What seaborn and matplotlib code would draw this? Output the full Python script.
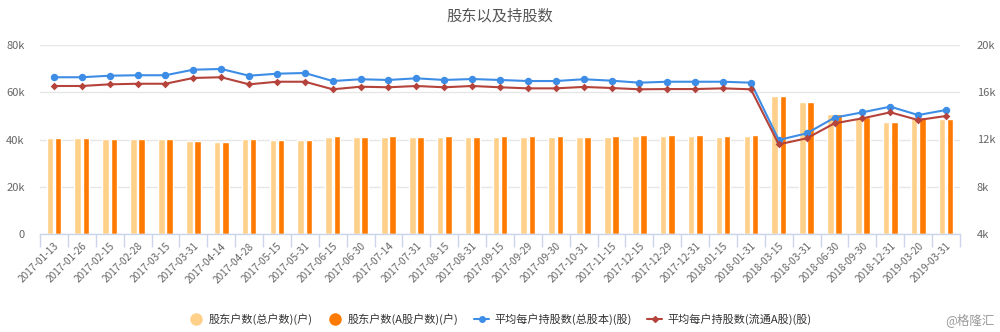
import numpy as np
import pandas as pd
import matplotlib
matplotlib.use("Agg")
import matplotlib.pyplot as plt
import seaborn as sns
from matplotlib.ticker import FuncFormatter
from matplotlib.lines import Line2D

dates = ["2017-01-13", "2017-01-26", "2017-02-15", "2017-02-28", "2017-03-15", "2017-03-31",
         "2017-04-14", "2017-04-28", "2017-05-15", "2017-05-31", "2017-06-15", "2017-06-30",
         "2017-07-14", "2017-07-31", "2017-08-15", "2017-08-31", "2017-09-15", "2017-09-29",
         "2017-09-30", "2017-10-31", "2017-11-15", "2017-12-15", "2017-12-29", "2017-12-31",
         "2018-01-15", "2018-01-31", "2018-03-15", "2018-03-31", "2018-06-30", "2018-09-30",
         "2018-12-31", "2019-03-20", "2019-03-31"]

total_households = [40500, 40500, 40200, 40200, 40200, 39400, 38800, 40200, 39800, 39800, 41200,
                    40900, 41200, 40900, 41200, 40900, 41200, 41200, 41200, 40900, 41200, 41600,
                    41600, 41600, 41200, 41600, 58500, 56000, 50600, 49300, 47400, 49300, 48800]
a_households = [40600, 40600, 40300, 40300, 40300, 39400, 38800, 40300, 39900, 39900, 41300,
                41000, 41300, 41000, 41300, 41000, 41300, 41300, 41300, 41000, 41300, 41700,
                41700, 41700, 41300, 41700, 58500, 56000, 50800, 49500, 47500, 49600, 48500]
avg_total_shares = [17270, 17270, 17400, 17440, 17440, 17910, 17970, 17400, 17570, 17630, 16950,
                    17100, 17040, 17180, 17040, 17120, 17040, 16950, 16950, 17100, 16980, 16810,
                    16890, 16890, 16890, 16810, 11960, 12520, 13850, 14300, 14780, 14070, 14500]
avg_float_shares = [16530, 16530, 16670, 16720, 16720, 17210, 17270, 16670, 16890, 16890, 16250,
                    16470, 16420, 16530, 16420, 16530, 16420, 16330, 16330, 16450, 16360, 16250,
                    16270, 16270, 16330, 16250, 11590, 12100, 13370, 13790, 14300, 13650, 13990]

bar_names = ["股东户数(总户数)(户)", "股东户数(A股户数)(户)"]
line_names = ["平均每户持股数(总股本)(股)", "平均每户持股数(流通A股)(股)"]
left_ticks = [0, 20000, 40000, 60000, 80000]
right_ticks = [4000, 8000, 12000, 16000, 20000]

c_light, c_dark = "#FFD08A", "#FF7A00"
c_blue, c_red = "#3D8DE6", "#B5433B"

sns.set_theme(style="white")
plt.rcParams['font.family'] = ['Noto Sans CJK SC', 'DejaVu Sans']

n = len(dates)
fig = plt.figure(figsize=(10, 3.32), dpi=100)
ax = fig.add_axes([0.04, 1 - 234 / 332, 0.92, (234 - 45) / 332])

bars = pd.DataFrame({
    "date": dates * 2,
    "value": total_households + a_households,
    "series": [bar_names[0]] * n + [bar_names[1]] * n,
})
sns.barplot(data=bars, x="date", y="value", hue="series", order=dates, hue_order=bar_names,
            palette=[c_light, c_dark], width=0.59, gap=0.2, saturation=1, errorbar=None,
            legend=False, ax=ax)

ax2 = ax.twinx()
lines = pd.DataFrame({
    "date": dates * 2,
    "value": avg_total_shares + avg_float_shares,
    "series": [line_names[0]] * n + [line_names[1]] * n,
})
sns.pointplot(data=lines, x="date", y="value", hue="series", order=dates, hue_order=line_names,
              palette=[c_blue, c_red], markers=["o", "D"], linestyles=["-", "-"],
              errorbar=None, legend=False, ax=ax2, markersize=4, linewidth=1.5)
for ln, ms in zip(ax2.lines, [4.2, 2.8]):
    ln.set_markersize(ms)

ax.set_ylim(0, 80000)
ax2.set_ylim(4000, 20000)
ax.set_xlim(-0.5, n - 0.5)

kfmt = FuncFormatter(lambda v, p: "0" if v == 0 else f"{int(round(v / 1000))}k")
ax.set_yticks(left_ticks)
ax.yaxis.set_major_formatter(kfmt)
ax2.set_yticks(right_ticks)
ax2.yaxis.set_major_formatter(kfmt)

ax.set_xticks(range(n))
ax.set_xticklabels(dates)
ax.set_xticks(np.arange(n + 1) - 0.5, minor=True)
plt.setp(ax.get_xticklabels(), rotation=45, ha="right", rotation_mode="anchor",
         fontsize=7.3, color="#666666")
ax.tick_params(axis="x", which="major", length=0, pad=5)
ax.tick_params(axis="x", which="minor", length=9, width=1, color="#CCD6EB", bottom=True)
ax.tick_params(axis="y", length=0, pad=11, labelsize=8, labelcolor="#666666")
ax2.tick_params(axis="y", length=0, pad=12, labelsize=8, labelcolor="#666666")

ax.set_xlabel("")
ax.set_ylabel("")
ax2.set_xlabel("")
ax2.set_ylabel("")

ax.set_axisbelow(True)
ax.yaxis.grid(True, color="#E6E6E6", linewidth=1)
ax.xaxis.grid(False)
ax2.grid(False)
for s in ["top", "left", "right"]:
    ax.spines[s].set_visible(False)
ax.spines["bottom"].set_color("#CCD6EB")
ax.spines["bottom"].set_linewidth(1)
for s in ax2.spines.values():
    s.set_visible(False)

fig.text(0.5, 1 - 16 / 332, "股东以及持股数", ha="center", va="center", fontsize=11, color="#555555")

handles = [
    Line2D([], [], ls="none", marker="o", markersize=8, color=c_light),
    Line2D([], [], ls="none", marker="o", markersize=8, color=c_dark),
    Line2D([], [], ls="-", lw=1.5, marker="o", markersize=4, color=c_blue),
    Line2D([], [], ls="-", lw=1.5, marker="D", markersize=3, color=c_red),
]
fig.legend(handles, bar_names + line_names, loc="center", bbox_to_anchor=(0.5, 1 - 319 / 332),
           ncol=4, frameon=False, fontsize=8, handlelength=1.3, handletextpad=0.5,
           columnspacing=1.4, labelcolor="#333333")

fig.text(0.995, 1 - 320 / 332, "@格隆汇", ha="right", va="center", fontsize=9, color="#9A9A9A")

fig.savefig("out.png", dpi=100)
